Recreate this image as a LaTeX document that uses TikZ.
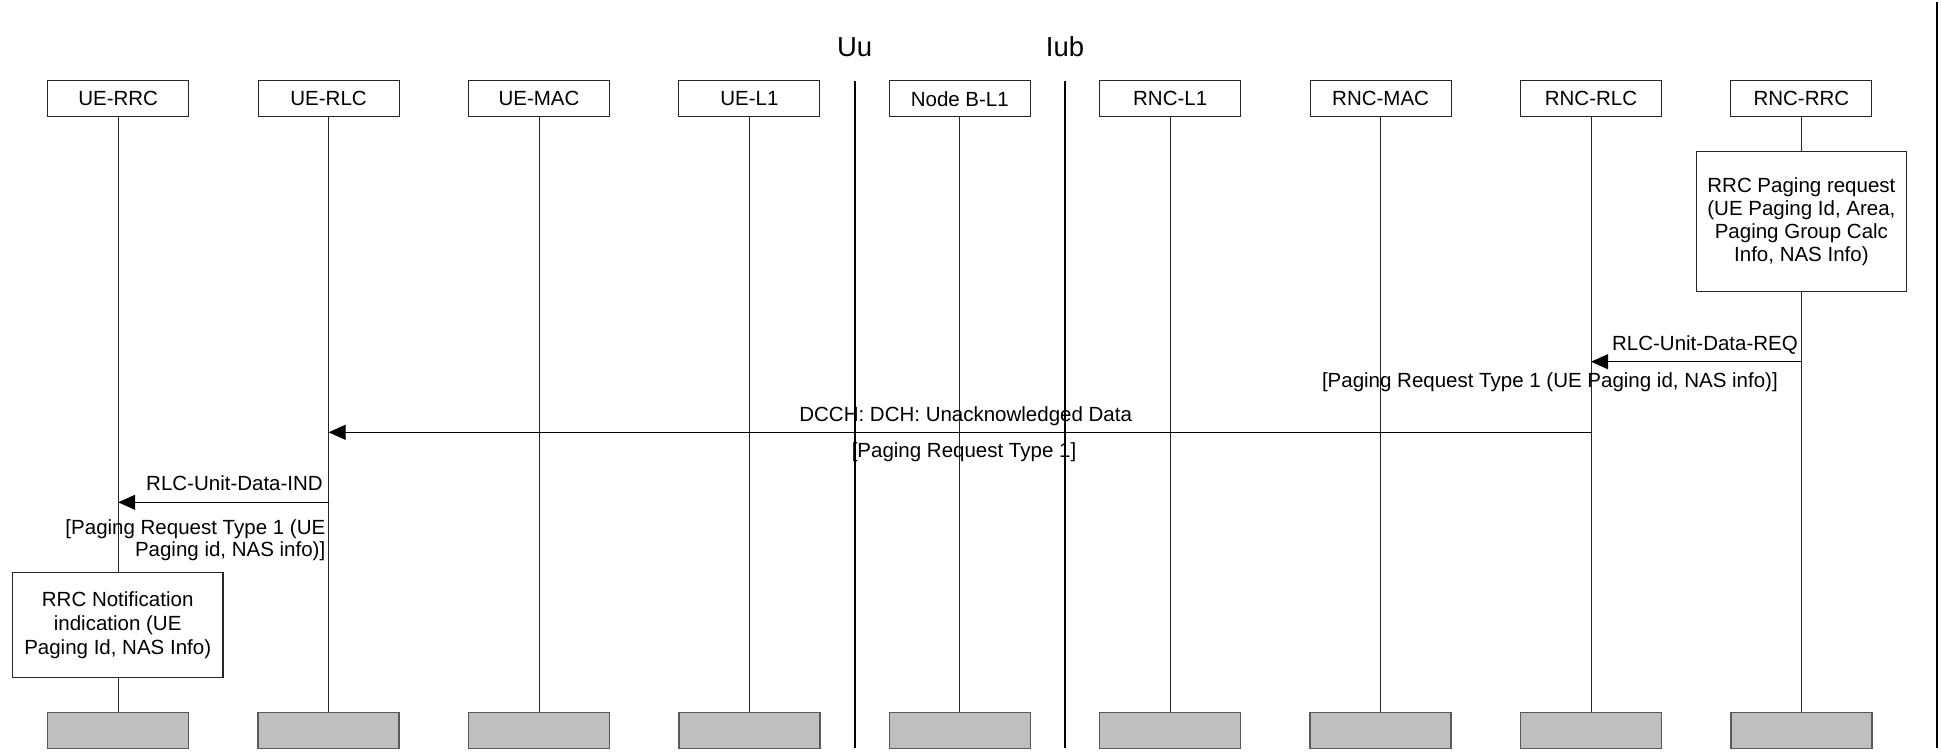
\documentclass[tikz,border=0pt]{standalone}
\usepackage{fontspec}
\setmainfont{Liberation Sans}
\usetikzlibrary{arrows.meta}
\begin{document}
\begin{tikzpicture}[x=1pt,y=-1pt,
  every node/.style={font=\fontsize{20.5}{23.3}\selectfont, inner sep=0pt},
  topbox/.style={draw=black!85, line width=1.1pt, fill=white, minimum width=141pt, minimum height=36pt},
  botbox/.style={draw=black!65, line width=1.5pt, fill=black!25, minimum width=141pt, minimum height=35.6pt},
  life/.style={draw=black!85, line width=1pt},
  sepline/.style={draw=black, line width=2pt},
  msg/.style={draw=black, line width=1pt, -{Triangle[length=17pt,width=15pt]}},
  notebox/.style={draw=black!85, line width=1.1pt, fill=white, align=center},
  iface/.style={font=\fontsize{27.5}{30}\selectfont, anchor=base}
]
\useasboundingbox (0,0) rectangle (1941,755);

% entities
\foreach \i/\nm/\lab in {0/uerrc/UE-RRC,1/uerlc/UE-RLC,2/uemac/UE-MAC,3/uel1/UE-L1,4/nbl1/Node B-L1,5/rncl1/RNC-L1,6/rncmac/RNC-MAC,7/rncrlc/RNC-RLC,8/rncrrc/RNC-RRC}{
  \node[topbox] (\nm) at (118.2+210.4*\i,98.8) {\lab};
  \node[botbox] (\nm-end) at (118.2+210.4*\i,730.5) {};
  \draw[life] (\nm) -- (\nm-end);
}

% interface separators
\node[iface] (uu) at (854.6,56.7) {Uu};
\node[iface] (iub) at (1065,56.7) {Iub};
\draw[sepline] (854.6,81) -- (854.6,748);
\draw[sepline] (1065,81) -- (1065,748);
\draw[sepline] (1936.6,2) -- (1936.6,748);

% action boxes
\node[notebox, minimum width=210.4pt, minimum height=140pt] (pagereq) at (1801.4,221.7)
  {RRC Paging request\\(UE Paging Id, Area,\\Paging Group Calc\\Info, NAS Info)};
\node[notebox, minimum width=210.6pt, minimum height=105.4pt, font=\fontsize{20.5}{24}\selectfont] (notif) at (117.7,625)
  {RRC Notification\\indication (UE\\Paging Id, NAS Info)};

% messages
\coordinate (req-s) at (rncrrc |- 0,361.7);
\coordinate (req-e) at (rncrlc |- 0,361.7);
\draw[msg] (req-s) -- (req-e);
\node[anchor=base east] (reqlbl) at (1798,350.7) {RLC-Unit-Data-REQ};
\node[anchor=base east] (reqprm) at (1778,387) {[Paging Request Type 1 (UE Paging id, NAS info)]};

\coordinate (dcch-s) at (rncrlc |- 0,432.3);
\coordinate (dcch-e) at (uerlc |- 0,432.3);
\draw[msg] (dcch-s) -- (dcch-e);
\node[anchor=base] (dcchlbl) at (965.7,421.7) {DCCH: DCH: Unacknowledged Data};
\node[anchor=base] (dcchprm) at (964,457.3) {[Paging Request Type 1]};

\coordinate (ind-s) at (uerlc |- 0,502.3);
\coordinate (ind-e) at (uerrc |- 0,502.3);
\draw[msg] (ind-s) -- (ind-e);
\node[anchor=base east] (indlbl) at (323,490.7) {RLC-Unit-Data-IND};
\node[anchor=north east, align=right, font=\fontsize{20.5}{22.7}\selectfont] (indprm) at (325.5,519)
  {[Paging Request Type 1 (UE\\Paging id, NAS info)]};
\end{tikzpicture}
\end{document}
